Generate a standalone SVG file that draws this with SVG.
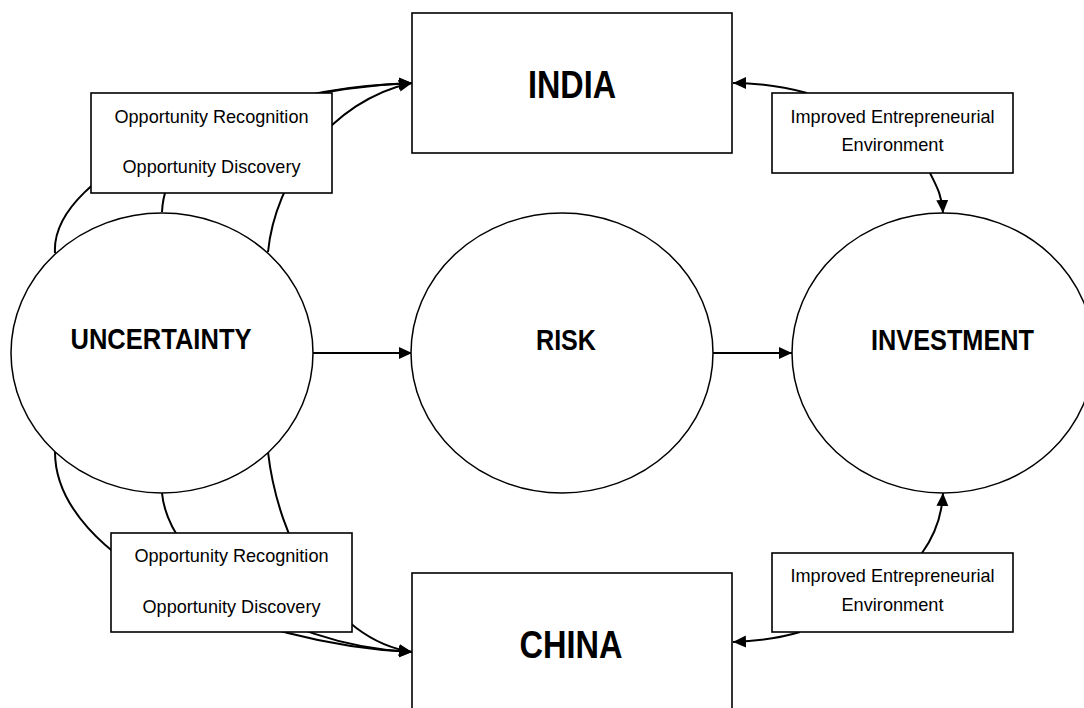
<svg xmlns="http://www.w3.org/2000/svg" width="1084" height="708" viewBox="0 0 1084 708">
<defs>
<marker id="arr" markerUnits="userSpaceOnUse" markerWidth="14" markerHeight="13" refX="13" refY="6" orient="auto">
<path d="M0,0 L13,6 L0,12 z" fill="#000"/>
</marker>
<style>
.bg{fill:#fff}
.circ{fill:#fff;stroke:#000;stroke-width:1.5}
.box{fill:#fff;stroke:#000;stroke-width:1.6}
.con{fill:none;stroke:#000;stroke-width:2}
.big{font-family:"Liberation Sans",Arial,sans-serif;font-weight:bold;text-anchor:middle;fill:#000}
.sm{font-family:"Liberation Sans",Arial,sans-serif;font-size:19px;text-anchor:middle;fill:#000}
</style>
</defs>
<rect class="bg" x="0" y="0" width="1084" height="708"/>
<g id="connectors">
<path class="con" d="M313,353 L412,353" marker-end="url(#arr)"/>
<path class="con" d="M713,353 L792,353" marker-end="url(#arr)"/>
<path class="con" d="M55,253 C50,170 240,90 412,83" marker-end="url(#arr)"/>
<path class="con" d="M162,212 C165,140 260,88 412,83" marker-end="url(#arr)"/>
<path class="con" d="M268,252 C275,180 330,100 412,83" marker-end="url(#arr)"/>
<path class="con" d="M55,452 C55,560 250,645 412,652" marker-end="url(#arr)"/>
<path class="con" d="M162,493 C168,560 270,645 412,652" marker-end="url(#arr)"/>
<path class="con" d="M268,452 C278,540 330,640 412,652" marker-end="url(#arr)"/>
<path class="con" d="M807,93 C780,86 760,83 733,83" marker-end="url(#arr)"/>
<path class="con" d="M930,173 C936,185 942,195 943,213" marker-end="url(#arr)"/>
<path class="con" d="M922,553 C935,535 942,515 943,493" marker-end="url(#arr)"/>
<path class="con" d="M800,632 C780,638 760,641 733,642" marker-end="url(#arr)"/>
</g>
<g id="uncertainty">
<ellipse class="circ" cx="162" cy="353" rx="151" ry="140"/>
<text class="big" x="161" y="349" font-size="30" textLength="181" lengthAdjust="spacingAndGlyphs">UNCERTAINTY</text>
</g>
<g id="risk">
<ellipse class="circ" cx="562" cy="353" rx="151" ry="140"/>
<text class="big" x="566" y="350" font-size="30" textLength="60" lengthAdjust="spacingAndGlyphs">RISK</text>
</g>
<g id="investment">
<ellipse class="circ" cx="943" cy="353" rx="151" ry="140"/>
<text class="big" x="952.5" y="350" font-size="30" textLength="163" lengthAdjust="spacingAndGlyphs">INVESTMENT</text>
</g>
<g id="india">
<rect class="box" x="412" y="13" width="320" height="140"/>
<text class="big" x="572" y="98" font-size="39" textLength="88" lengthAdjust="spacingAndGlyphs">INDIA</text>
</g>
<g id="china">
<rect class="box" x="412" y="573" width="320" height="140"/>
<text class="big" x="571" y="658" font-size="39" textLength="103" lengthAdjust="spacingAndGlyphs">CHINA</text>
</g>
<g id="opp-india">
<rect class="box" x="91" y="93" width="241" height="100"/>
<text class="sm" x="211.5" y="123" textLength="194" lengthAdjust="spacingAndGlyphs">Opportunity Recognition</text>
<text class="sm" x="211.5" y="173" textLength="178" lengthAdjust="spacingAndGlyphs">Opportunity Discovery</text>
</g>
<g id="opp-china">
<rect class="box" x="111" y="533" width="241" height="99"/>
<text class="sm" x="231.5" y="562" textLength="194" lengthAdjust="spacingAndGlyphs">Opportunity Recognition</text>
<text class="sm" x="231.5" y="613" textLength="178" lengthAdjust="spacingAndGlyphs">Opportunity Discovery</text>
</g>
<g id="env-india">
<rect class="box" x="772" y="93" width="241" height="80"/>
<text class="sm" x="892.5" y="123" textLength="204" lengthAdjust="spacingAndGlyphs">Improved Entrepreneurial</text>
<text class="sm" x="892.5" y="151" textLength="102" lengthAdjust="spacingAndGlyphs">Environment</text>
</g>
<g id="env-china">
<rect class="box" x="772" y="553" width="241" height="79"/>
<text class="sm" x="892.5" y="582" textLength="204" lengthAdjust="spacingAndGlyphs">Improved Entrepreneurial</text>
<text class="sm" x="892.5" y="611" textLength="102" lengthAdjust="spacingAndGlyphs">Environment</text>
</g>
</svg>
